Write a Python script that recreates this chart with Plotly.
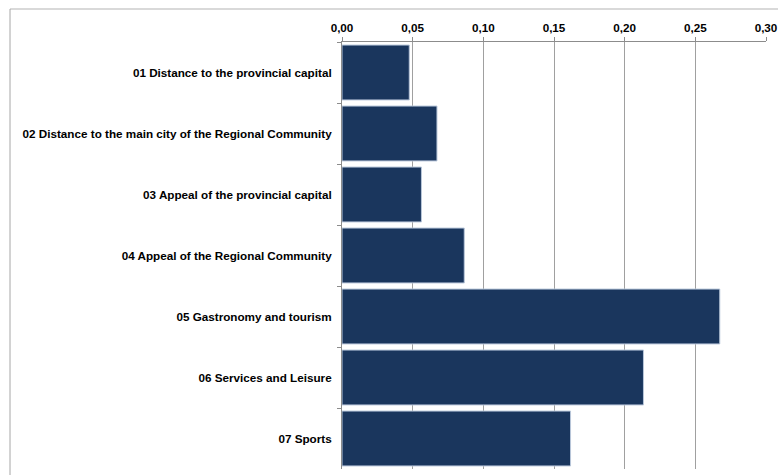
import plotly.graph_objects as go

categories = [
    "01 Distance to the provincial capital",
    "02 Distance to the main city of the Regional Community",
    "03 Appeal of the provincial capital",
    "04 Appeal of the Regional Community",
    "05 Gastronomy and tourism",
    "06 Services and Leisure",
    "07 Sports",
]
values = [0.0476, 0.0672, 0.0562, 0.0865, 0.2673, 0.2133, 0.1617]
tick_vals = [0.00, 0.05, 0.10, 0.15, 0.20, 0.25, 0.30]

W, H = 778, 475
ML, MR, MT, MB = 342, 12, 42, 6
plot_w = W - ML - MR
plot_h = H - MT - MB

fig = go.Figure(
    go.Bar(
        x=values,
        y=categories,
        orientation="h",
        width=0.9,
        marker=dict(color="#1a365d", line=dict(color="#b9c7da", width=1)),
        hoverinfo="x+y",
    )
)

# outer frame of the chart area (top and left edges visible)
fx0 = (10 - ML) / plot_w
fy1 = 1 + (MT - 9) / plot_h
fig.add_shape(type="line", xref="paper", yref="paper",
              x0=fx0, x1=1 + (MR + 5) / plot_w, y0=fy1, y1=fy1,
              line=dict(color="#d9d9d9", width=2))
fig.add_shape(type="line", xref="paper", yref="paper",
              x0=fx0, x1=fx0, y0=fy1, y1=-(MB + 5) / plot_h,
              line=dict(color="#a6a6a6", width=1))

fig.update_layout(
    width=W,
    height=H,
    margin=dict(l=ML, r=MR, t=MT, b=MB, pad=0, autoexpand=False),
    paper_bgcolor="white",
    plot_bgcolor="white",
    separators=",.",
    showlegend=False,
    font=dict(family="Liberation Sans, Arial, sans-serif", size=11.7,
              color="#000000", weight="bold"),
    xaxis=dict(
        side="top",
        range=[0, 0.30],
        tickvals=tick_vals,
        tickformat=".2f",
        showgrid=True,
        gridcolor="#a0a0a0",
        gridwidth=1,
        zeroline=False,
        showline=True,
        linecolor="#8c8c8c",
        linewidth=1,
        ticks="outside",
        ticklen=4,
        tickcolor="#8c8c8c",
        automargin=False,
        fixedrange=True,
    ),
    yaxis=dict(
        autorange="reversed",
        showline=True,
        linecolor="#8c8c8c",
        linewidth=1,
        ticks="outside",
        tickson="boundaries",
        ticklen=4,
        tickcolor="#8c8c8c",
        showgrid=False,
        ticklabelstandoff=7,
        automargin=False,
        fixedrange=True,
    ),
    bargap=0.1,
)

fig.write_html("out.html")
